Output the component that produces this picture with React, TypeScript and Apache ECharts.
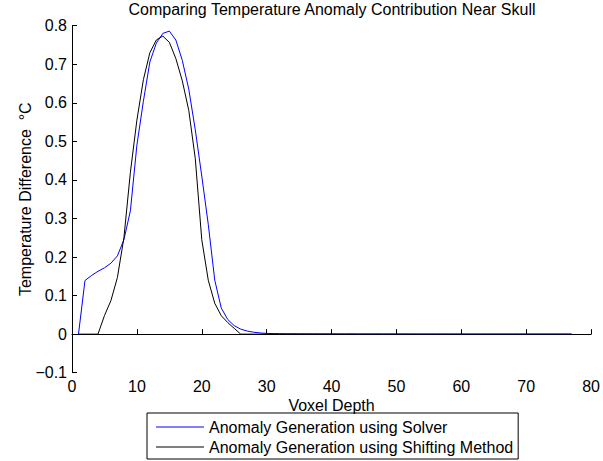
import React, { useEffect, useRef } from "react";
import * as echarts from "echarts";

const depth = [
  1, 2, 3, 4, 5, 6, 7, 8, 9, 10, 11, 12, 13, 14, 15, 16, 17, 18, 19, 20,
  21, 22, 23, 24, 25, 26, 27, 28, 29, 30, 31, 32, 33, 34, 35, 36, 37, 38, 39, 40,
  41, 42, 43, 44, 45, 46, 47, 48, 49, 50, 51, 52, 53, 54, 55, 56, 57, 58, 59, 60,
  61, 62, 63, 64, 65, 66, 67, 68, 69, 70, 71, 72, 73, 74, 75, 76, 77,
];

const solver = [
  0, 0.139, 0.152, 0.163, 0.172, 0.184, 0.203, 0.245, 0.32, 0.49,
  0.604, 0.706, 0.755, 0.78, 0.786, 0.763, 0.71, 0.635, 0.53, 0.41,
  0.285, 0.14, 0.068, 0.038, 0.022, 0.013, 0.008, 0.005, 0.003, 0.002,
  0.0015, 0.0012, 0.001, 0.001, 0.0008, 0.0008, 0.0007, 0.0007, 0.0006, 0.0006,
  0.0005, 0.0005, 0.0005, 0.0004, 0.0004, 0.0004, 0.0004, 0.0003, 0.0003, 0.0003,
  0.0003, 0.0003, 0.0002, 0.0002, 0.0002, 0.0002, 0.0002, 0.0002, 0.0002, 0.0002,
  0.0001, 0.0001, 0.0001, 0.0001, 0.0001, 0.0001, 0.0001, 0.0001, 0.0001, 0.0001,
  0.0001, 0.0001, 0.0001, 0.0001, 0.0001, 0.0001, 0.0001,
];

const shifting = [
  0, 0, 0, 0, 0.048, 0.087, 0.147, 0.25, 0.42, 0.555,
  0.66, 0.73, 0.763, 0.773, 0.757, 0.715, 0.657, 0.58, 0.455, 0.245,
  0.14, 0.08, 0.048, 0.03, 0.015, 0, 0, 0, 0, 0,
  0, 0, 0, 0, 0, 0, 0, 0, 0, 0,
  0, 0, 0, 0, 0, 0, 0, 0, 0, 0,
  0, 0, 0, 0, 0, 0, 0, 0, 0, 0,
  0, 0, 0, 0, 0, 0, 0, 0, 0, 0,
  0, 0, 0, 0, 0, 0, 0,
];

const seriesNames = [
  "Anomaly Generation using Solver",
  "Anomaly Generation using Shifting Method",
];

const titleText = "Comparing Temperature Anomaly Contribution Near Skull";
const xName = "Voxel Depth";
const yName = "Temperature Difference\u00a0\u00a0°C";

const FONT = '"Liberation Sans", Arial, Helvetica, sans-serif';

export default function App() {
  const ref = useRef<HTMLDivElement>(null);

  useEffect(() => {
    document.body.style.margin = "0";
    if (!ref.current) return;
    const chart = echarts.init(ref.current, null, { renderer: "svg" });
    const axisLine = { show: true, lineStyle: { color: "#000", width: 1 } };
    chart.setOption({
      animation: false,
      backgroundColor: "#fff",
      textStyle: { fontFamily: FONT },
      title: {
        text: titleText,
        left: 332,
        top: 1,
        padding: 0,
        textAlign: "center",
        textStyle: { fontSize: 16, fontWeight: "normal", color: "#000", fontFamily: FONT },
      },
      grid: { left: 72, right: 10.5, top: 25.7, bottom: 88.3, containLabel: false },
      legend: {
        orient: "vertical",
        left: 147,
        top: 413,
        padding: [6, 5, 4, 9],
        itemGap: 4,
        itemWidth: 48,
        itemHeight: 1,
        icon: "rect",
        borderColor: "#000",
        borderWidth: 1,
        backgroundColor: "transparent",
        textStyle: { fontSize: 16, color: "#000", fontFamily: FONT, lineHeight: 15 },
        data: seriesNames,
      },
      xAxis: {
        type: "value",
        min: 0,
        max: 80,
        interval: 10,
        name: xName,
        nameLocation: "middle",
        nameGap: 25,
        nameMoveOverlap: false,
        nameTextStyle: { fontSize: 16, color: "#000", fontFamily: FONT },
        axisLine,
        axisTick: { show: true, inside: true, length: 5, lineStyle: { color: "#000" } },
        axisLabel: { fontSize: 16, color: "#000", margin: 6, fontFamily: FONT },
        splitLine: { show: false },
      },
      yAxis: {
        type: "value",
        min: -0.1,
        max: 0.8,
        interval: 0.1,
        name: yName,
        nameLocation: "middle",
        nameGap: 39,
        nameMoveOverlap: false,
        nameTextStyle: { fontSize: 16, color: "#000", fontFamily: FONT },
        axisLine,
        axisTick: { show: true, inside: true, length: 5, lineStyle: { color: "#000" } },
        axisLabel: {
          fontSize: 16,
          color: "#000",
          margin: 5,
          fontFamily: FONT,
          formatter: (v: number) => {
            if (Math.abs(v) < 1e-9) return "0";
            const s = Math.abs(v).toFixed(1);
            return v < 0 ? "\u2212" + s : s;
          },
        },
        splitLine: { show: false },
      },
      series: [
        {
          name: seriesNames[0],
          type: "line",
          data: depth.map((d, i) => [d, solver[i]]),
          symbol: "none",
          lineStyle: { color: "#0000ff", width: 1 },
          itemStyle: { color: "#0000ff" },
        },
        {
          name: seriesNames[1],
          type: "line",
          data: depth.map((d, i) => [d, shifting[i]]),
          symbol: "none",
          lineStyle: { color: "#000000", width: 1 },
          itemStyle: { color: "#000000" },
        },
      ],
    });
    return () => chart.dispose();
  }, []);

  return <div ref={ref} style={{ width: 603, height: 461 }} />;
}
